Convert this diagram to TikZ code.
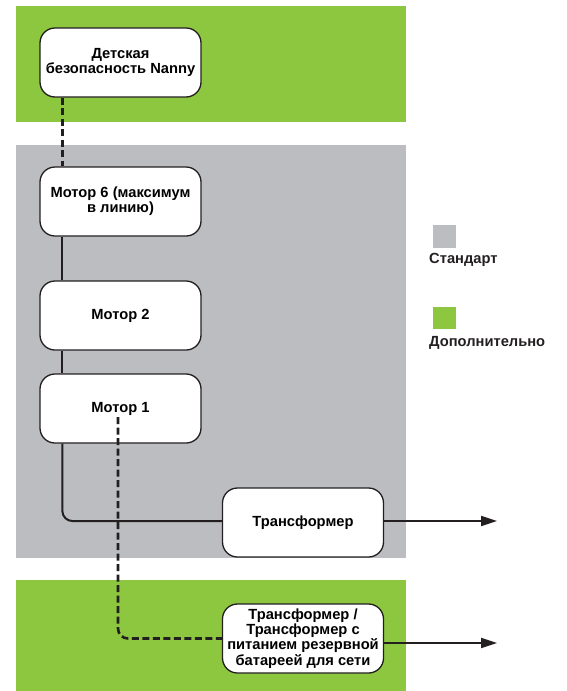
\documentclass[tikz,border=0pt]{standalone}
\usepackage{fontspec}
\setmainfont{Liberation Sans}
\usepackage{tikz}
\usetikzlibrary{arrows.meta,calc}
\definecolor{cstd}{RGB}{187,189,192}
\definecolor{copt}{RGB}{141,198,63}
\definecolor{cink}{RGB}{35,31,32}
\tikzset{
  unit/.style={rectangle,rounded corners=15pt,fill=white,draw=cink,
    line width=1.3pt,minimum width=161pt,minimum height=69pt,
    align=center,inner sep=1pt,font=\fontsize{14.7}{15.2}\selectfont\bfseries},
  legend/.style={anchor=west,inner sep=0pt,
    font=\fontsize{14.7}{16}\selectfont\bfseries,text=cink},
  wire/.style={draw=cink,line width=2pt},
  optwire/.style={draw=cink,line width=2.6pt,dash pattern=on 7pt off 3.5pt},
  arr/.style={-{Triangle[length=16pt,width=10pt]},draw=cink,line width=2pt}
}
\begin{document}
\begin{tikzpicture}[x=1pt,y=-1pt,>=Stealth]
  \useasboundingbox (0,0) rectangle (566,691);
  % bands: optional in green, standard in grey
  \fill[copt] (16,6) rectangle (406,122);
  \fill[cstd] (16,145) rectangle (406,558);
  \fill[copt] (16,580) rectangle (406,691);

  \node[unit] (nanny) at (120.5,62.5) {Детская\\безопасность Nanny};
  \node[unit] (m6) at (120.5,201.5) {Мотор 6 (максимум\\в линию)};
  \node[unit] (m2) at (120.5,315.5) {Мотор 2};
  \node[unit] (m1) at (120.5,408.5) {Мотор 1};
  \node[unit] (tr) at (303,522.5) {Трансформер};
  \node[unit] (trb) at (303,638.5) {Трансформер /\\Трансформер с\\питанием резервной\\батареей для сети};
  \coordinate (out1) at (497,521);
  \coordinate (out2) at (497,643);

  % legend
  \fill[cstd] (433,225) rectangle (456,248);
  \node[legend] (lstd) at (429,260) {Стандарт};
  \fill[copt] (433,307) rectangle (456,329);
  \node[legend] (lopt) at (429,343) {Дополнительно};

  \draw[optwire] ([xshift=23pt]nanny.south west) -- ([xshift=23pt]m6.north west);
  \draw[wire] ([xshift=23pt]m6.south west) -- ([xshift=23pt]m2.north west);
  \draw[wire] ([xshift=23pt]m2.south west) -- ([xshift=23pt]m1.north west);
  \draw[wire,rounded corners=10pt] ([xshift=23pt]m1.south west) |- ([yshift=1.5pt]tr.west);
  \draw[optwire,rounded corners=10pt] ([xshift=-2.5pt,yshift=-8.5pt]m1.center) |- (trb.west);
  \draw[arr] (tr.east |- out1) -- (out1);
  \draw[arr] (trb.east |- out2) -- (out2);
\end{tikzpicture}
\end{document}
